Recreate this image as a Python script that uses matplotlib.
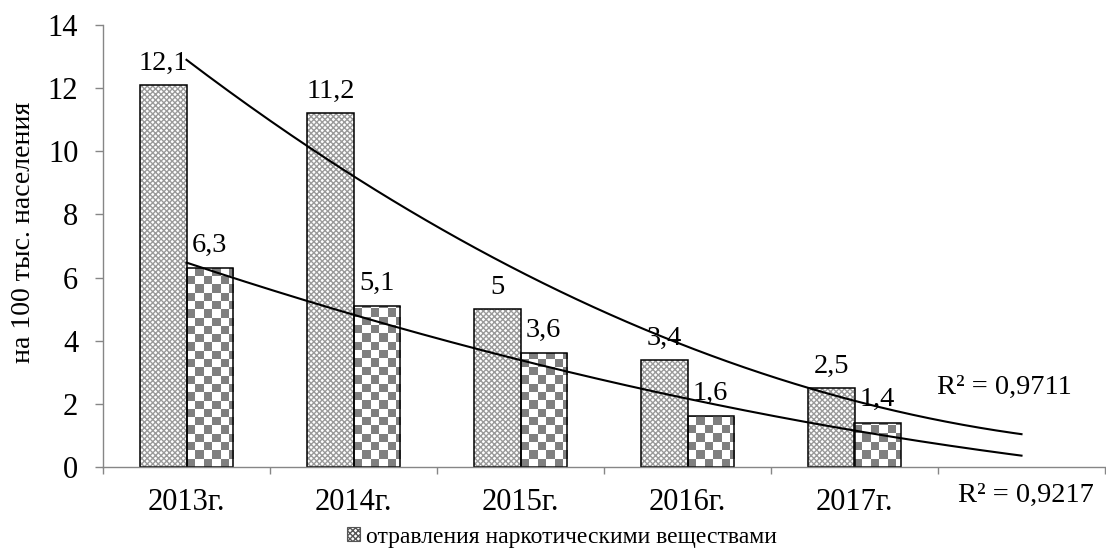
import numpy as np
import matplotlib
matplotlib.use("Agg")
import matplotlib.pyplot as plt
from matplotlib.patches import Patch

# ---- data ----
years = ['2013г.', '2014г.', '2015г.', '2016г.', '2017г.']
poisoning = [12.1, 11.2, 5, 3.4, 2.5]
second_series = [6.3, 5.1, 3.6, 1.6, 1.4]
legend_label = 'отравления наркотическими веществами'
y_label = 'на 100 тыс. населения'
r2_labels = ['R² = 0,9711', 'R² = 0,9217']
y_ticks = [0, 2, 4, 6, 8, 10, 12, 14]

plt.rcParams['font.family'] = ['Liberation Serif', 'DejaVu Serif']
plt.rcParams['hatch.linewidth'] = 1.0
FS = 20.5
TFS = 22
HATCH = 'xxxxxx'
HCOL = '#9a9a9a'

fig = plt.figure(figsize=(11.06, 5.49), dpi=100)
ax = fig.add_axes([103/1106, 82/549, 1002/1106, 442/549])

n = len(years)
x = np.arange(n)
w = 0.277
# hatch layer (gray) + outline layer (black)
ax.bar(x - w/2, poisoning, w, facecolor='white', edgecolor=HCOL,
       linewidth=0, hatch=HATCH, zorder=1.8)
bars1 = ax.bar(x - w/2, poisoning, w, facecolor='none', edgecolor='black',
               linewidth=1.1, zorder=2)
bars2 = ax.bar(x + w/2, second_series, w, facecolor='none', edgecolor='black',
               linewidth=1.1, zorder=2)

ax.set_xlim(-0.5, n + 0.5)
ax.set_ylim(0, 14)

# checkerboard fill for second series
px_per_x = 1002 / (n + 1)
px_per_y = 442 / 14
sq = 8.3
dx = sq / px_per_x
dy = sq / px_per_y
cmap = matplotlib.colors.ListedColormap(['#7f7f7f', 'white'])
for b in bars2:
    x0, y0 = b.get_x(), b.get_y()
    bw, bh = b.get_width(), b.get_height()
    nx = int(np.ceil(bw / dx)) + 1
    ny = int(np.ceil(bh / dy)) + 1
    ii, jj = np.meshgrid(np.arange(nx), np.arange(ny))
    checker = ((ii + jj) % 2).astype(float)
    im = ax.imshow(checker, cmap=cmap, vmin=0, vmax=1,
                   extent=(x0, x0 + nx*dx, y0, y0 + ny*dy), origin='lower',
                   interpolation='nearest', aspect='auto', zorder=1.5)
    im.set_clip_path(b)
ax.set_aspect('auto')
ax.set_xlim(-0.5, n + 0.5)
ax.set_ylim(0, 14)

# data labels
def fmt(v):
    return f"{v:g}".replace('.', ',')

for b, v in zip(bars1, poisoning):
    ax.annotate(fmt(v), (b.get_x() + b.get_width()/2, v), xytext=(0, 6.5),
                textcoords='offset points', ha='center', va='bottom', fontsize=FS, zorder=4)
for b, v in zip(bars2, second_series):
    ax.annotate(fmt(v), (b.get_x() + b.get_width()/2, v), xytext=(0, 7.5),
                textcoords='offset points', ha='center', va='bottom', fontsize=FS, zorder=4)

# polynomial (order 2) trendlines, forecast one period forward
xs = np.arange(1, n + 1)
xf = np.linspace(1, n + 1, 200)
for s in (poisoning, second_series):
    c = np.polyfit(xs, s, 2)
    ax.plot(xf - 1, np.polyval(c, xf), color='black', lw=1.5, zorder=3)

# axes styling
for sp in ('top', 'right'):
    ax.spines[sp].set_visible(False)
for sp in ('left', 'bottom'):
    ax.spines[sp].set_color('#868686')
    ax.spines[sp].set_linewidth(1.0)

ax.set_yticks(y_ticks)
ax.tick_params(axis='y', direction='out', length=5.8, width=1.0, color='#868686',
               labelsize=TFS, pad=12)
ax.set_xticks(np.arange(-0.5, n + 0.6, 1.0))
ax.set_xticklabels([])
ax.set_xticks(x, minor=True)
ax.set_xticklabels(years, minor=True)
ax.tick_params(axis='x', which='major', direction='out', length=5, width=1.0, color='#868686')
ax.tick_params(axis='x', which='minor', length=0, labelsize=TFS, pad=15)

ax.set_ylabel(y_label, fontsize=20)
ax.yaxis.set_label_coords(-0.067, 0.53)

fig.text(937/1106, 1 - 387/549, r2_labels[0], fontsize=FS, ha='left', va='center')
fig.text(958/1106, 1 - 495/549, r2_labels[1], fontsize=FS, ha='left', va='center')

handle = Patch(facecolor='white', edgecolor='#555555', hatch=HATCH, linewidth=0.8)
fig.legend([handle], [legend_label], loc='center', bbox_to_anchor=(562/1106, 1 - 537/549),
           frameon=False, fontsize=17, handlelength=0.55, handleheight=0.55,
           handletextpad=0.25, borderpad=0, borderaxespad=0)

fig.savefig('out.png', dpi=100)
